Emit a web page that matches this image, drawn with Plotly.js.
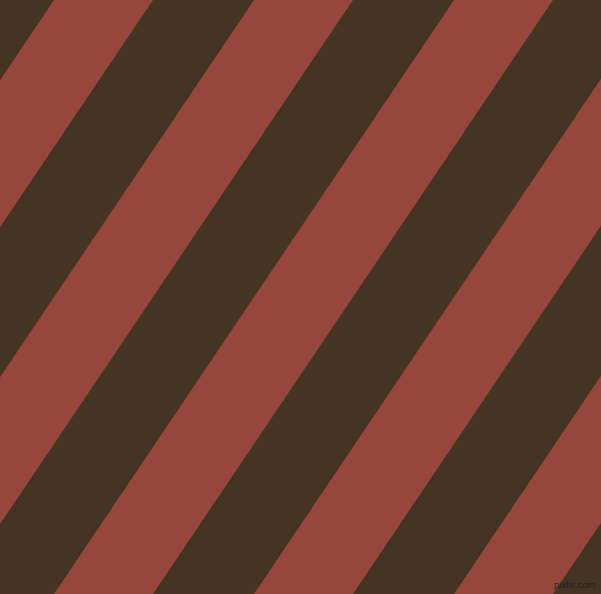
<!DOCTYPE html>
<html>
<head>
<meta charset="utf-8">
<script src="https://cdn.plot.ly/plotly-3.0.1.min.js"></script>
<style>
  html, body { margin: 0; padding: 0; background: #433422; overflow: hidden; }
  #stripes { width: 601px; height: 594px; }
</style>
</head>
<body>
<div id="stripes"></div>
<script>
/* ── Diagonal stripes, drawn as filled polygons ── */

// where each red band crosses the top edge (x, px)
const redStart = [54, 254, 454, 654, 854];
const redEnd   = [153, 353, 553, 753, 953];
// how far a band moves left from top edge to bottom edge
const bottomShift = 400;

const W = 601, H = 594;
const RED  = "#97463b";
const DARK = "#443423";

const traces = redStart.map((x0, i) => {
  const x1 = redEnd[i];
  return {
    type: "scatter", mode: "lines",
    x: [x0, x1, x1 - bottomShift, x0 - bottomShift, x0],
    y: [0, 0, H, H, 0],
    fill: "toself", fillcolor: RED,
    line: { width: 0, color: RED },
    hoverinfo: "skip", showlegend: false,
  };
});

const layout = {
  width: W, height: H,
  margin: { l: 0, r: 0, t: 0, b: 0 },
  paper_bgcolor: DARK,
  plot_bgcolor: DARK,
  xaxis: { range: [0, W], visible: false, fixedrange: true },
  yaxis: { range: [H, 0], visible: false, fixedrange: true },
  annotations: [{
    x: 598, y: 592, xref: "x", yref: "y",
    text: "pixlis.com", showarrow: false,
    xanchor: "right", yanchor: "bottom",
    font: { family: "Liberation Sans", size: 9.5, color: "rgba(34,27,19,0.9)" },
  }],
  showlegend: false,
};

Plotly.newPlot("stripes", traces, layout, { staticPlot: true, displayModeBar: false });
</script>
</body>
</html>
